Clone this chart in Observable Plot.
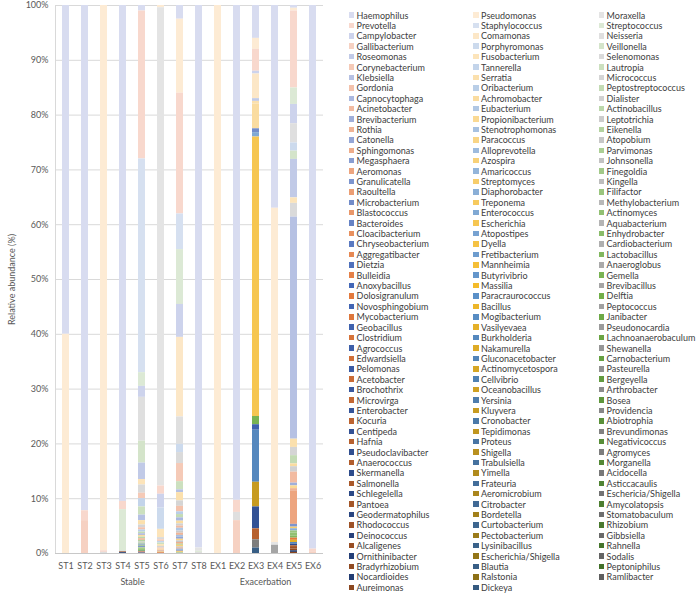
<!DOCTYPE html>
<html><head><meta charset="utf-8">
<script src="https://cdn.jsdelivr.net/npm/d3@7"></script>
<script src="https://cdn.jsdelivr.net/npm/@observablehq/plot@0.6"></script>
<style>
body{margin:0;background:#fff;font-family:Lato,sans-serif;}
#wrap{position:relative;width:700px;height:598px;overflow:hidden;background:#fff}
#chart{position:absolute;left:0;top:0}
#legend{position:absolute;left:348.5px;top:9.8px;display:grid;grid-auto-flow:column;grid-template-rows:repeat(56,10.41px);grid-template-columns:124.5px 125.5px 100px;font-size:9px;color:#404040}
.item{display:flex;align-items:center;white-space:nowrap;height:10.41px}
.sw{width:5.5px;height:5.5px;margin-right:2.6px;flex:none}
</style></head><body><div id="wrap"><div id="chart"></div><div id="legend"></div></div>
<script>
const legendCol1 = ["Haemophilus","Prevotella","Campylobacter","Gallibacterium","Roseomonas","Corynebacterium","Klebsiella","Gordonia","Capnocytophaga","Acinetobacter","Brevibacterium","Rothia","Catonella","Sphingomonas","Megasphaera","Aeromonas","Granulicatella","Raoultella","Microbacterium","Blastococcus","Bacteroides","Cloacibacterium","Chryseobacterium","Aggregatibacter","Dietzia","Bulleidia","Anoxybacillus","Dolosigranulum","Novosphingobium","Mycobacterium","Geobacillus","Clostridium","Agrococcus","Edwardsiella","Pelomonas","Acetobacter","Brochothrix","Microvirga","Enterobacter","Kocuria","Centipeda","Hafnia","Pseudoclavibacter","Anaerococcus","Skermanella","Salmonella","Schlegelella","Pantoea","Geodermatophilus","Rhodococcus","Deinococcus","Alcaligenes","Ornithinibacter","Bradyrhizobium","Nocardioides","Aureimonas"];
const legendCol2 = ["Pseudomonas","Staphylococcus","Comamonas","Porphyromonas","Fusobacterium","Tannerella","Serratia","Oribacterium","Achromobacter","Eubacterium","Propionibacterium","Stenotrophomonas","Paracoccus","Alloprevotella","Azospira","Amaricoccus","Streptomyces","Diaphorobacter","Treponema","Enterococcus","Escherichia","Atopostipes","Dyella","Fretibacterium","Mannheimia","Butyrivibrio","Massilia","Paracraurococcus","Bacillus","Mogibacterium","Vasilyevaea","Burkholderia","Nakamurella","Gluconacetobacter","Actinomycetospora","Cellvibrio","Oceanobacillus","Yersinia","Kluyvera","Cronobacter","Tepidimonas","Proteus","Shigella","Trabulsiella","Yimella","Frateuria","Aeromicrobium","Citrobacter","Bordetella","Curtobacterium","Pectobacterium","Lysinibacillus","Escherichia/Shigella","Blautia","Ralstonia","Dickeya"];
const legendCol3 = ["Moraxella","Streptococcus","Neisseria","Veillonella","Selenomonas","Lautropia","Micrococcus","Peptostreptococcus","Dialister","Actinobacillus","Leptotrichia","Eikenella","Atopobium","Parvimonas","Johnsonella","Finegoldia","Kingella","Filifactor","Methylobacterium","Actinomyces","Aquabacterium","Enhydrobacter","Cardiobacterium","Lactobacillus","Anaeroglobus","Gemella","Brevibacillus","Delftia","Peptococcus","Janibacter","Pseudonocardia","Lachnoanaerobaculum","Shewanella","Carnobacterium","Pasteurella","Bergeyella","Arthrobacter","Bosea","Providencia","Abiotrophia","Brevundimonas","Negativicoccus","Agromyces","Morganella","Acidocella","Asticcacaulis","Eschericia/Shigella","Amycolatopsis","Stomatobaculum","Rhizobium","Gibbsiella","Rahnella","Sodalis","Peptoniphilus","Ramlibacter"];

const samples = ["ST1","ST2","ST3","ST4","ST5","ST6","ST7","ST8","EX1","EX2","EX3","EX4","EX5","EX6"];
const groupLabels = ["Stable","Exacerbation"];
const groupSplitAfter = ["ST4","EX3"];
const yTicks = [0,0.1,0.2,0.3,0.4,0.5,0.6,0.7,0.8,0.9,1];

// relative abundance (%) per sample: [genus, value]
const ST1 = [["Haemophilus",60],["Pseudomonas",40]];
const ST2 = [["Haemophilus",92.2],["Prevotella",1.8],["Gallibacterium",6.0]];
const ST3 = [["Pseudomonas",99.5],["Prevotella",0.3],["Neisseria",0.2]];
const ST4 = [["Haemophilus",90.5],["Prevotella",1.5],["Streptococcus",7.6],["Klebsiella",0.1],["Rhodococcus",0.15],["Nocardioides",0.15]];
const ST5 = [["Haemophilus",1],["Prevotella",27],["Staphylococcus",39],["Streptococcus",2.5],["Campylobacter",2],["Neisseria",8],["Veillonella",4],["Roseomonas",3],["Fusobacterium",1],["Selenomonas",1.5],["Corynebacterium",1],["Tannerella",1.5],["Lautropia",1.5],["Klebsiella",1],["Serratia",0.8],["Micrococcus",0.5],["Gordonia",0.4],["Oribacterium",0.4],["Peptostreptococcus",0.3],["Capnocytophaga",0.3],["Achromobacter",0.3],["Actinobacillus",0.3],["Rothia",0.3],["Eikenella",0.3],["Atopobium",0.2],["Parvimonas",0.2],["Megasphaera",0.2],["Finegoldia",0.2],["Granulicatella",0.2],["Methylobacterium",0.1],["Actinomyces",0.2],["Lactobacillus",0.2],["Gemella",0.2],["Anoxybacillus",0.1],["Mycobacterium",0.1],["Clostridium",0.1],["Brochothrix",0.1]];
const ST6 = [["Pseudomonas",0.4],["Moraxella",87.2],["Prevotella",1.5],["Campylobacter",2.5],["Porphyromonas",3.9],["Fusobacterium",1.5],["Selenomonas",0.4],["Corynebacterium",0.3],["Tannerella",0.3],["Lautropia",0.3],["Serratia",0.3],["Micrococcus",0.3],["Gordonia",0.2],["Achromobacter",0.2],["Rothia",0.2],["Catonella",0.1],["Streptomyces",0.1],["Bulleidia",0.1],["Clostridium",0.1]];
const ST7 = [["Haemophilus",2.5],["Pseudomonas",13.5],["Prevotella",22],["Staphylococcus",6.5],["Streptococcus",10],["Campylobacter",6],["Comamonas",14.5],["Neisseria",5],["Porphyromonas",1.5],["Selenomonas",2],["Corynebacterium",3.3],["Lautropia",1.5],["Klebsiella",0.5],["Serratia",1.5],["Micrococcus",1],["Gordonia",1],["Oribacterium",0.5],["Peptostreptococcus",0.6],["Capnocytophaga",0.6],["Achromobacter",0.5],["Dialister",0.4],["Acinetobacter",0.4],["Eubacterium",0.5],["Leptotrichia",0.4],["Rothia",0.4],["Stenotrophomonas",0.3],["Catonella",0.4],["Paracoccus",0.3],["Atopobium",0.3],["Sphingomonas",0.3],["Parvimonas",0.2],["Azospira",0.3],["Johnsonella",0.2],["Aeromonas",0.2],["Amaricoccus",0.2],["Granulicatella",0.2],["Streptomyces",0.2],["Kingella",0.1],["Filifactor",0.1]];
const ST8 = [["Haemophilus",99],["Moraxella",0.6],["Streptococcus",0.2],["Neisseria",0.2]];
const EX1 = [["Pseudomonas",100]];
const EX2 = [["Haemophilus",90.3],["Prevotella",2.2],["Neisseria",1.5],["Gallibacterium",6.0]];
const EX3 = [["Haemophilus",6],["Pseudomonas",2],["Prevotella",4],["Campylobacter",0.5],["Comamonas",4.5],["Roseomonas",0.5],["Serratia",0.5],["Achromobacter",4.5],["Microbacterium",0.7],["Enterococcus",0.8],["Escherichia",51],["Gemella",1.5],["Geobacillus",1],["Burkholderia",9.5],["Kluyvera",4.5],["Centipeda",4],["Hafnia",2],["Agromyces",1.5],["Blautia",1]];
const EX4 = [["Haemophilus",37],["Pseudomonas",61],["Moraxella",0.5],["Brevibacillus",1.5]];
const EX5 = [["Haemophilus",0.5],["Pseudomonas",0.5],["Prevotella",14],["Streptococcus",3],["Campylobacter",3.5],["Neisseria",3.5],["Porphyromonas",1.5],["Veillonella",1.5],["Roseomonas",7],["Fusobacterium",1],["Selenomonas",2.5],["Klebsiella",40.4],["Serratia",1.5],["Micrococcus",1.5],["Peptostreptococcus",1.5],["Achromobacter",0.5],["Dialister",1],["Acinetobacter",2],["Brevibacterium",0.5],["Propionibacterium",0.5],["Rothia",0.5],["Aeromonas",6],["Granulicatella",0.5],["Streptomyces",0.3],["Diaphorobacter",0.4],["Filifactor",0.4],["Actinomyces",0.5],["Lactobacillus",0.4],["Dolosigranulum",0.4],["Vasilyevaea",0.4],["Burkholderia",0.3],["Skermanella",0.3],["Salmonella",0.3],["Rhodococcus",0.3],["Bradyrhizobium",0.3],["Nocardioides",0.3],["Aureimonas",0.2]];
const EX6 = [["Haemophilus",99.2],["Prevotella",0.6],["Gallibacterium",0.2]];

const sampleValues = [ST1,ST2,ST3,ST4,ST5,ST6,ST7,ST8,EX1,EX2,EX3,EX4,EX5,EX6];

// series order: legend read row by row (stack from the top down)
const cols = [legendCol1, legendCol2, legendCol3];
const seriesOrder = [];
for (let r = 0; r < 56; r++) for (let c = 0; c < 3; c++) if (cols[c][r]) seriesOrder.push(cols[c][r]);

const hueStops = [
  ["#D8DCF0","#4468B8","#223C72"], // blue
  ["#FDEBD4","#F4BB2A","#8C7016"], // yellow
  ["#E4E4E4","#A5A5A5","#5F5F5F"], // gray
  ["#F8D8CD","#E37A3D","#8B4720"], // orange
  ["#D6E0F0","#5A90C8","#355A80"], // light blue
  ["#DCE9D5","#71AE48","#3E6B27"]  // green
];
function shade(k) {
  const s = hueStops[k % 6], L = Math.floor(k / 6);
  return L <= 13 ? d3.interpolateRgb(s[0], s[1])(L / 13) : d3.interpolateRgb(s[1], s[2])((L - 13) / 14);
}
const seriesColors = seriesOrder.map((_, k) => shade(k));

const rows = [];
samples.forEach((s, i) => sampleValues[i].forEach(([g, v]) => rows.push({sample: s, genus: g, value: v})));
const groups = groupLabels.map((label, i) => ({label, after: groupSplitAfter[i]}));

const W = 340, H = 598, mL = 55, mR = 17, mT = 5, mB = 45, pI = 0.61, pO = 0.32;
const step = (W - mL - mR) / (samples.length - pI + 2 * pO);

const chart = Plot.plot({
  width: W, height: H, marginLeft: mL, marginRight: mR, marginTop: mT, marginBottom: mB,
  style: {fontFamily: "Lato, sans-serif", fontSize: "9px", color: "#595959", background: "white"},
  x: {domain: samples, paddingInner: pI, paddingOuter: pO, label: null},
  y: {domain: [0, 1], label: null},
  color: {domain: seriesOrder, range: seriesColors},
  marks: [
    Plot.gridY(yTicks, {stroke: "#D9D9D9", strokeOpacity: 1}),
    Plot.frame({anchor: "left", stroke: "#D9D9D9"}),
    Plot.barY(rows, {x: "sample", y: "value", fill: "genus", order: seriesOrder.slice().reverse(), offset: "normalize"}),
    Plot.ruleY([0], {stroke: "#C8C8C8"}),
    Plot.axisY({ticks: yTicks, tickFormat: d => Math.round(d * 100) + "%", tickSize: 0, tickPadding: 7, label: null}),
    Plot.axisX({tickSize: 0, tickPadding: 9, label: null}),
    Plot.text(["Relative abundance (%)"], {frameAnchor: "left", rotate: -90, dx: -43, textAnchor: "middle"}),
    Plot.text(groups, {x: "after", text: "label", frameAnchor: "bottom", dy: 31, dx: step / 2})
  ]
});
document.getElementById("chart").append(chart);

const legend = document.getElementById("legend");
[...legendCol1, ...legendCol2, ...legendCol3].forEach(name => {
  const it = document.createElement("div");
  it.className = "item";
  const sw = document.createElement("span");
  sw.className = "sw";
  sw.style.background = seriesColors[seriesOrder.indexOf(name)];
  it.append(sw, document.createTextNode(name));
  legend.append(it);
});
</script></body></html>
